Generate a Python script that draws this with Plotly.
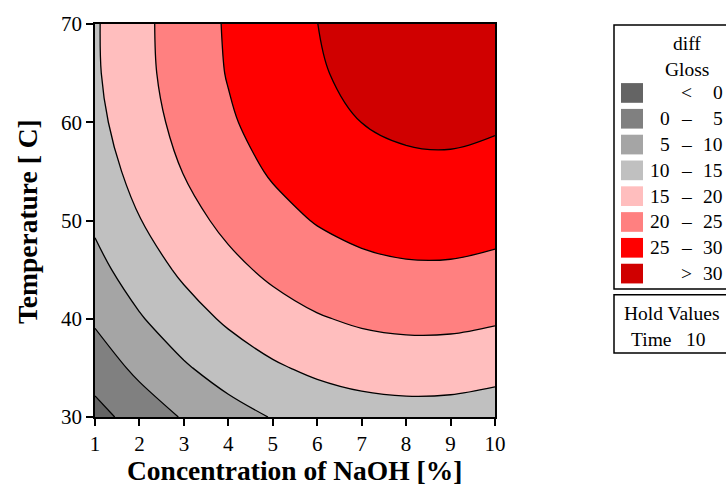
import plotly.graph_objects as go

# Response surface: diff Gloss vs NaOH concentration and temperature (Time held at 10)
concentration = [1, 2, 3, 4, 5, 6, 7, 8, 9, 10]
temperature = [30, 35, 40, 45, 50, 55, 60, 65, 70]

gloss_t30 = [-1.70, 2.14, 5.41, 8.10, 10.23, 11.78, 12.77, 13.18, 13.03, 12.30]
gloss_t35 = [2.26, 6.14, 9.46, 12.20, 14.38, 15.98, 17.02, 17.48, 17.38, 16.70]
gloss_t40 = [5.66, 9.59, 12.96, 15.75, 17.98, 19.63, 20.72, 21.23, 21.18, 20.55]
gloss_t45 = [8.51, 12.49, 15.91, 18.75, 21.03, 22.73, 23.87, 24.43, 24.43, 23.85]
gloss_t50 = [10.81, 14.84, 18.31, 21.20, 23.53, 25.28, 26.47, 27.08, 27.13, 26.60]
gloss_t55 = [12.56, 16.64, 20.16, 23.10, 25.48, 27.28, 28.52, 29.18, 29.28, 28.80]
gloss_t60 = [13.76, 17.89, 21.46, 24.45, 26.88, 28.73, 30.02, 30.73, 30.88, 30.45]
gloss_t65 = [14.41, 18.59, 22.21, 25.25, 27.73, 29.63, 30.97, 31.73, 31.93, 31.55]
gloss_t70 = [14.51, 18.74, 22.41, 25.50, 28.03, 29.98, 31.37, 32.18, 32.43, 32.10]

diff_gloss = [gloss_t30, gloss_t35, gloss_t40, gloss_t45, gloss_t50,
              gloss_t55, gloss_t60, gloss_t65, gloss_t70]

levels = [0, 5, 10, 15, 20, 25, 30]
band_colors = ["#646464", "#808080", "#a5a5a5", "#c0c0c0",
               "#ffbebe", "#ff8080", "#ff0000", "#d00000"]

x_ticks = [1, 2, 3, 4, 5, 6, 7, 8, 9, 10]
y_ticks = [30, 40, 50, 60, 70]

hold_name = "Time"
hold_value = 10

W, H = 726, 489
PL, PR, PT, PB = 95, 495, 18, 417
SERIF = "Liberation Serif, Times New Roman, serif"


def px(x):
    return (x - PL) / (PR - PL)


def py(y):
    return (PB - y) / (PB - PT)


step = levels[1] - levels[0]
n_bands = len(band_colors)
colorscale = [[k / (n_bands - 1), c] for k, c in enumerate(band_colors)]

fig = go.Figure(
    go.Contour(
        x=concentration,
        y=temperature,
        z=diff_gloss,
        autocontour=False,
        contours=dict(start=levels[0], end=levels[-1], size=step,
                      coloring="fill", showlines=True),
        colorscale=colorscale,
        line=dict(color="black", width=1.3, smoothing=1),
        showscale=False,
        hoverinfo="x+y+z",
    )
)

axis_common = dict(
    showline=True, linecolor="black", linewidth=1.5, mirror=True,
    ticks="outside", ticklen=7, tickwidth=1.5, tickcolor="black",
    showgrid=False, zeroline=False,
    tickfont=dict(family=SERIF, size=21, color="black"),
)

fig.update_xaxes(range=[concentration[0], concentration[-1]],
                 tickvals=x_ticks, **axis_common)
fig.update_yaxes(range=[temperature[0], temperature[-1]],
                 tickvals=y_ticks, **axis_common)

annotations = []
shapes = []

# axis titles
annotations.append(dict(x=px(294), y=py(471), xref="paper", yref="paper",
                        text="<b>Concentration of NaOH [%]</b>", showarrow=False,
                        font=dict(family=SERIF, size=27.5, color="black"),
                        xanchor="center", yanchor="middle"))
annotations.append(dict(x=px(28), y=py(219), xref="paper", yref="paper",
                        text="<b>Temperature [ C]</b>", showarrow=False,
                        textangle=-90,
                        font=dict(family=SERIF, size=27.5, color="black"),
                        xanchor="center", yanchor="middle"))

# legend box
leg_font = dict(family=SERIF, size=19.5, color="black")
shapes.append(dict(type="rect", xref="paper", yref="paper",
                   x0=px(614), x1=px(740), y0=py(287), y1=py(19),
                   line=dict(color="black", width=1.5), fillcolor="white",
                   layer="below"))
annotations.append(dict(x=px(687), y=py(38), xref="paper", yref="paper",
                        text="diff", showarrow=False, font=leg_font,
                        xanchor="center", yanchor="middle"))
annotations.append(dict(x=px(687), y=py(64), xref="paper", yref="paper",
                        text="Gloss", showarrow=False, font=leg_font,
                        xanchor="center", yanchor="middle"))

row_y0, row_dy = 88, 26.2
for k, color in enumerate(band_colors):
    yc = row_y0 + k * row_dy
    shapes.append(dict(type="rect", xref="paper", yref="paper",
                       x0=px(621), x1=px(643), y0=py(yc + 10), y1=py(yc - 10),
                       line=dict(width=0), fillcolor=color))
    if k == 0:
        left, mid, right = "", "<", str(levels[0])
    elif k == n_bands - 1:
        left, mid, right = "", ">", str(levels[-1])
    else:
        left, mid, right = str(levels[k - 1]), "–", str(levels[k])
    if left:
        annotations.append(dict(x=px(672), y=py(yc), xref="paper", yref="paper",
                                text=left, showarrow=False, font=leg_font,
                                xanchor="right", yanchor="middle"))
    annotations.append(dict(x=px(686), y=py(yc), xref="paper", yref="paper",
                            text=mid, showarrow=False, font=leg_font,
                            xanchor="center", yanchor="middle"))
    annotations.append(dict(x=px(725), y=py(yc), xref="paper", yref="paper",
                            text=right, showarrow=False, font=leg_font,
                            xanchor="right", yanchor="middle"))

# hold values box
shapes.append(dict(type="rect", xref="paper", yref="paper",
                   x0=px(614), x1=px(740), y0=py(352), y1=py(293),
                   line=dict(color="black", width=1.5), fillcolor="white",
                   layer="below"))
annotations.append(dict(x=px(672), y=py(312), xref="paper", yref="paper",
                        text="Hold Values", showarrow=False, font=leg_font,
                        xanchor="center", yanchor="middle"))
annotations.append(dict(x=px(668), y=py(338), xref="paper", yref="paper",
                        text=f"{hold_name}&nbsp;&nbsp;&nbsp;{hold_value}",
                        showarrow=False, font=leg_font,
                        xanchor="center", yanchor="middle"))

fig.update_layout(
    width=W, height=H,
    margin=dict(l=PL, r=W - PR, t=PT, b=H - PB, pad=0),
    paper_bgcolor="white", plot_bgcolor="white",
    annotations=annotations, shapes=shapes,
    showlegend=False,
)

fig.write_html("out.html")
